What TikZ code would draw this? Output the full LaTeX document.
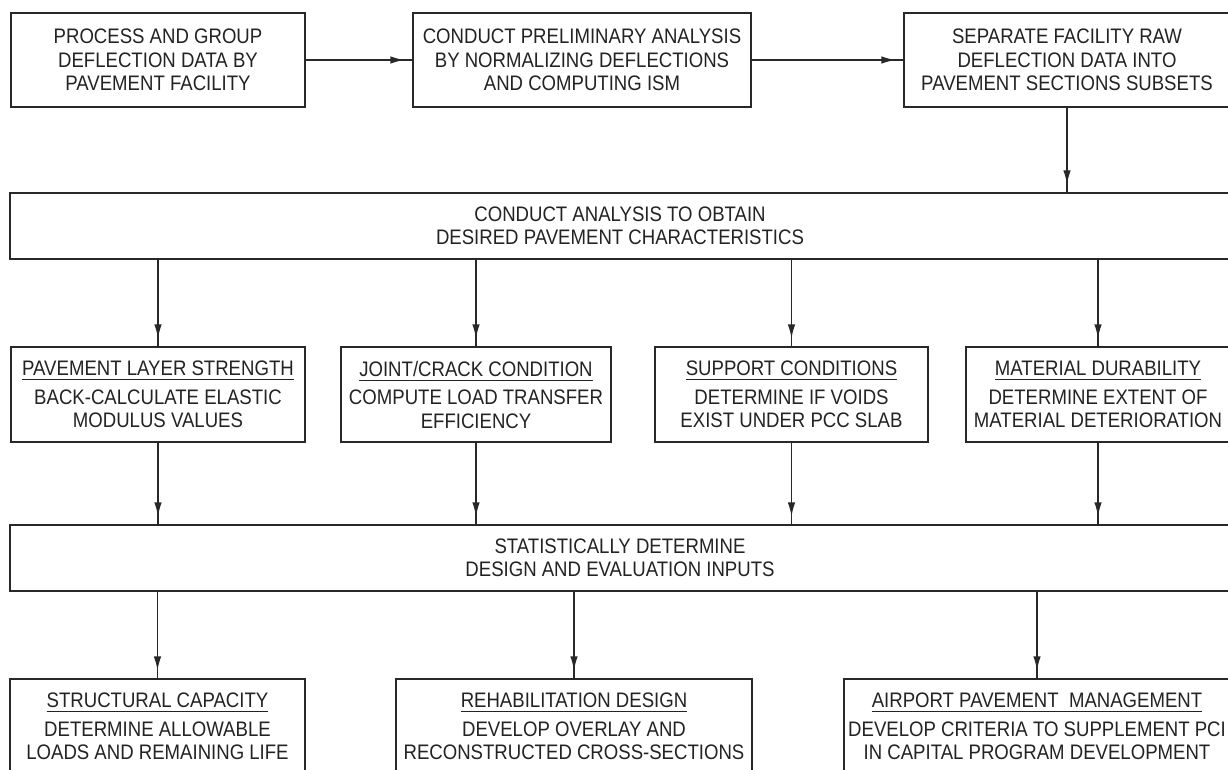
\documentclass[tikz,border=0pt]{standalone}
\usepackage{fontspec}
\setmainfont{Liberation Sans}[FakeStretch=0.885]
\usetikzlibrary{arrows.meta,decorations.markings}
\definecolor{linec}{RGB}{40,40,40}
\definecolor{textc}{RGB}{35,35,35}
\newcommand\ttlul[1]{\sbox0{#1}\makebox[0pt][l]{\rule[-4.5pt]{\wd0}{1pt}}\usebox0}
\tikzset{
  box/.style={draw=linec, line width=1.3pt, inner sep=0pt, align=center, text=textc,
    font=\fontsize{21}{23.5}\selectfont},
  arr/.style={draw=linec, line width=1.3pt, postaction={decorate},
    decoration={markings, mark=at position -8pt with {\arrow{Latex[length=14pt,width=7.5pt]}}}},
}
\begin{document}
\begin{tikzpicture}[x=1pt,y=-1pt]
\useasboundingbox (0,0) rectangle (1228,770);
\clip (0,0) rectangle (1228,770);
\fill[white] (0,0) rectangle (1228,770);
% top row
\node[box, minimum width=294pt, minimum height=94pt] (p1) at (158,60)
  {PROCESS AND GROUP\\DEFLECTION DATA BY\\PAVEMENT FACILITY};
\node[box, minimum width=338pt, minimum height=94pt] (p2) at (582,60)
  {CONDUCT PRELIMINARY ANALYSIS\\BY NORMALIZING DEFLECTIONS\\AND COMPUTING ISM};
\node[box, minimum width=326pt, minimum height=94pt] (p3) at (1067,60)
  {SEPARATE FACILITY RAW\\DEFLECTION DATA INTO\\PAVEMENT SECTIONS SUBSETS};
% wide box A
\node[box, minimum width=1220pt, minimum height=66pt] (A) at (620,226)
  {CONDUCT ANALYSIS TO OBTAIN\\DESIRED PAVEMENT CHARACTERISTICS};
% second row
\node[box, minimum width=294pt, minimum height=95pt] (q1) at (158,394.5)
  {\ttlul{PAVEMENT LAYER STRENGTH}\\[5pt]BACK-CALCULATE ELASTIC\\MODULUS VALUES};
\node[box, minimum width=270pt, minimum height=95pt] (q2) at (476,394.5)
  {\ttlul{JOINT/CRACK CONDITION}\\[5pt]COMPUTE LOAD TRANSFER\\EFFICIENCY};
\node[box, minimum width=273pt, minimum height=95pt] (q3) at (791.5,394.5)
  {\ttlul{SUPPORT CONDITIONS}\\[5pt]DETERMINE IF VOIDS\\EXIST UNDER PCC SLAB};
\node[box, minimum width=264pt, minimum height=95pt] (q4) at (1098,394.5)
  {\ttlul{MATERIAL DURABILITY}\\[5pt]DETERMINE EXTENT OF\\MATERIAL DETERIORATION};
% wide box B
\node[box, minimum width=1220pt, minimum height=66pt] (B) at (620,558)
  {STATISTICALLY DETERMINE\\DESIGN AND EVALUATION INPUTS};
% bottom row
\node[box, minimum width=295pt, minimum height=95pt] (r1) at (157.5,726.5)
  {\ttlul{STRUCTURAL CAPACITY}\\[5pt]DETERMINE ALLOWABLE\\LOADS AND REMAINING LIFE};
\node[box, minimum width=356pt, minimum height=95pt] (r2) at (574,726.5)
  {\ttlul{REHABILITATION DESIGN}\\[5pt]DEVELOP OVERLAY AND\\RECONSTRUCTED CROSS-SECTIONS};
\node[box, minimum width=386pt, minimum height=95pt] (r3) at (1037,726.5)
  {\ttlul{AIRPORT PAVEMENT\ \ MANAGEMENT}\\[5pt]DEVELOP CRITERIA TO SUPPLEMENT PCI\\IN CAPITAL PROGRAM DEVELOPMENT};
% connectors
\draw[arr] (p1.east) -- (p2.west);
\draw[arr] (p2.east) -- (p3.west);
\draw[arr] (p3.south) -- (p3.south |- A.north);
\foreach \n in {q1,q2,q3,q4}{
  \draw[arr] (A.south -| \n.north) -- (\n.north);
  \draw[arr] (\n.south) -- (\n.south |- B.north);
}
\foreach \n in {r1,r2,r3}{
  \draw[arr] (B.south -| \n.north) -- (\n.north);
}
\end{tikzpicture}
\end{document}
